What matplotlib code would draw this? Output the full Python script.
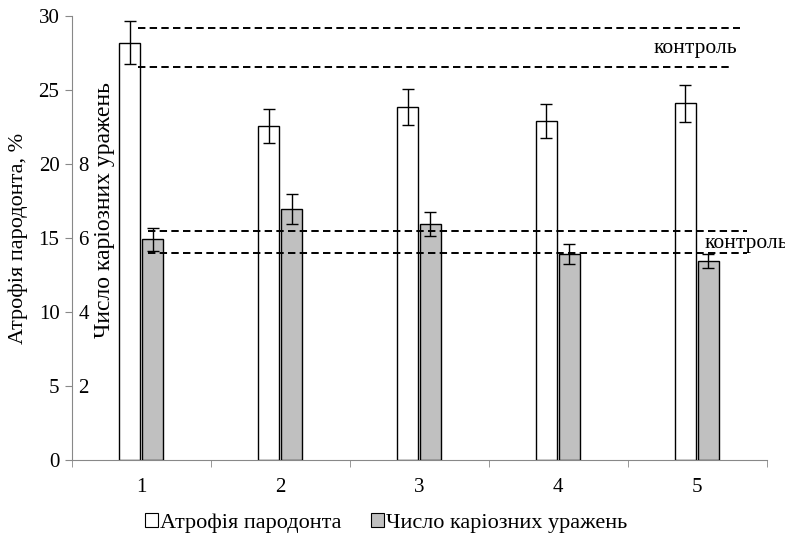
import numpy as np
import matplotlib
matplotlib.use("Agg")
import matplotlib.pyplot as plt
from matplotlib.patches import Patch

plt.rcParams['font.family'] = ['Liberation Serif', 'DejaVu Serif']

# data
groups = ['1', '2', '3', '4', '5']
atrophy = [28.2, 22.6, 23.85, 22.9, 24.1]        # %, left scale
atrophy_err = [1.45, 1.15, 1.2, 1.15, 1.25]
caries = [5.97, 6.78, 6.38, 5.57, 5.38]           # count, inner scale
caries_err = [0.31, 0.4, 0.32, 0.28, 0.2]
atrophy_control = [29.2, 26.55]
caries_control = [6.19, 5.6]

x = np.arange(len(groups))
w = 0.15
dash = (0, (3.8, 2.2))

fig = plt.figure(figsize=(7.85, 5.4), dpi=100)
ax = fig.add_axes([0.0917, 0.148, 0.885, 0.822])
ax2 = ax.twinx()

ax.bar(x - 0.085, atrophy, w, color='white', edgecolor='black', lw=1,
       yerr=atrophy_err, error_kw=dict(ecolor='black', lw=1, capsize=4, capthick=1))
ax2.bar(x + 0.08, caries, w, color='#c0c0c0', edgecolor='black', lw=1,
        yerr=caries_err, error_kw=dict(ecolor='black', lw=1, capsize=4, capthick=1))

# control bands (dashed)
ax.plot([-0.025, 4.31], [atrophy_control[0]] * 2, ls=dash, color='black', lw=1.4)
ax.plot([-0.025, 4.25], [atrophy_control[1]] * 2, ls=dash, color='black', lw=1.4)
ax.text(4.285, 27.84, 'контроль', ha='right', va='center', fontsize=15.5)
for v in caries_control:
    ax2.plot([0.047, 4.36], [v, v], ls=dash, color='black', lw=1.4)
# cut off by the right edge, as in the original
ax2.text(4.054, 5.86, 'контроль', ha='left', va='center', fontsize=15.5, clip_on=False)

ax.set_xlim(-0.5, 4.5)
ax.set_ylim(0, 30)
ax2.set_ylim(0, 12)
ax.set_yticks(np.arange(0, 31, 5))
ax.set_xticks(x)
ax.set_xticklabels(groups)
ax.set_xticks(np.arange(-0.5, 4.6, 1), minor=True)
ax.tick_params(axis='x', which='major', length=0, labelsize=15, pad=13)
ax.tick_params(axis='x', which='minor', length=5, color='#888888', direction='out')
ax.tick_params(axis='y', length=5, color='#888888', labelsize=15, pad=4)

ax2.yaxis.set_ticks_position('left')
ax2.set_yticks([2, 4, 6, 8])
ax2.tick_params(axis='y', length=0, pad=-12, labelsize=15)
for lbl in ax2.get_yticklabels():
    lbl.set_horizontalalignment('right')

for a in (ax, ax2):
    a.spines['top'].set_visible(False)
    a.spines['right'].set_visible(False)
    a.spines['left'].set_color('#888888')
    a.spines['bottom'].set_color('#888888')
ax2.spines['left'].set_visible(False)
ax2.spines['bottom'].set_visible(False)

ax.set_ylabel('Атрофія пародонта, %', fontsize=16)
ax.yaxis.set_label_coords(-0.064, 0.5)
ax.text(0.047, 0.563, 'Число каріозних уражень', rotation=90, ha='center', va='center',
        fontsize=17, transform=ax.transAxes)

handles = [Patch(facecolor='white', edgecolor='black', lw=0.8),
           Patch(facecolor='#c0c0c0', edgecolor='black', lw=0.8)]
fig.legend(handles, ['Атрофія пародонта', 'Число каріозних уражень'], loc='center',
           bbox_to_anchor=(0.492, 0.031), ncol=2, frameon=False, fontsize=16,
           handlelength=0.6, handleheight=0.6, handletextpad=0.1, columnspacing=1.3,
           borderpad=0)

fig.savefig('out.png', dpi=100)
